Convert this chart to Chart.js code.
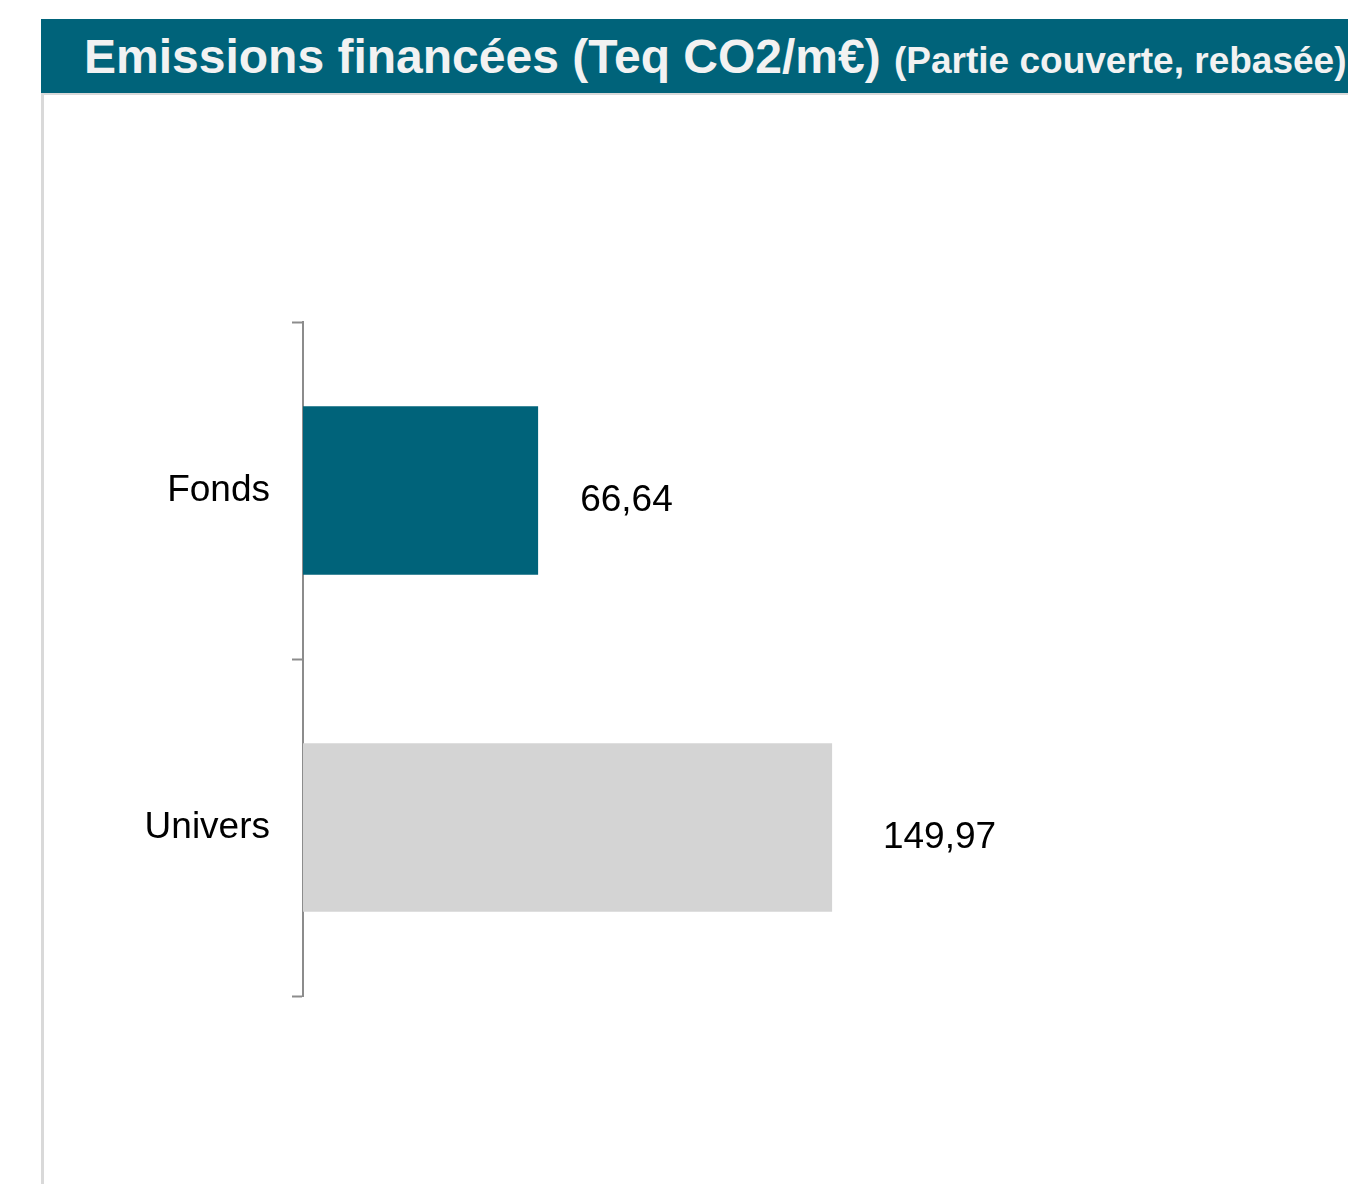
<!DOCTYPE html>
<html lang="fr">
<head>
<meta charset="utf-8">
<title>Emissions financées</title>
<script src="https://cdn.jsdelivr.net/npm/chart.js@4/dist/chart.umd.min.js"></script>
<style>
    html, body { margin: 0; padding: 0; background: #fff; }
    body { width: 1348px; height: 1184px; position: relative; overflow: hidden; font-family: "Liberation Sans", Arial, sans-serif; }
    #frame { position: absolute; left: 41px; top: 93px; width: 1320px; height: 1100px; border-left: 3px solid #d9d9d9; border-top: 2px solid #d9d9d9; }
    #header { position: absolute; left: 41px; top: 19px; width: 1320px; height: 74px; background: #00637a; color: #f2f2f2; font-weight: bold; white-space: nowrap; }
    #header .main { position: absolute; left: 43px; top: 10px; font-size: 48px; line-height: 56px; }
    #header .sub { font-size: 37px; }
    #chart-wrap { position: absolute; left: 0; top: 0; width: 1348px; height: 1184px; }
</style>
</head>
<body>
<div id="frame"></div>
<div id="header"><div class="main">Emissions financées (Teq CO2/m€) <span class="sub">(Partie couverte, rebasée)</span></div></div>
<div id="chart-wrap"><canvas id="emissions-chart" width="1348" height="1184"></canvas></div>
<script>
// --- DONNÉES ---
const categories = ['Fonds', 'Univers'];
const emissions = [66.64, 149.97];
const barColors = ['#00637a', '#d4d4d4'];

const axisLeft = 303; // bord gauche de la zone de tracé
const labelFont = '"Liberation Sans", Arial, sans-serif';

// Étiquettes de valeur à droite des barres (format français)
const valueLabels = {
    id: 'valueLabels',
    afterDatasetsDraw(chart) {
        const { ctx } = chart;
        const meta = chart.getDatasetMeta(0);
        ctx.save();
        ctx.font = '37px ' + labelFont;
        ctx.fillStyle = '#000';
        ctx.textAlign = 'left';
        ctx.textBaseline = 'middle';
        meta.data.forEach((bar, i) => {
            const txt = emissions[i].toFixed(2).replace('.', ',');
            ctx.fillText(txt, bar.x + 35 + (bar.x - bar.base) * 0.03, bar.y + 10);
        });
        ctx.restore();
    }
};

new Chart(document.getElementById('emissions-chart'), {
    type: 'bar',
    data: {
        labels: categories,
        datasets: [{
            data: emissions,
            backgroundColor: barColors,
            borderWidth: 0,
            categoryPercentage: 1,
            barPercentage: 0.5
        }]
    },
    options: {
        indexAxis: 'y',
        responsive: false,
        animation: false,
        layout: { padding: { left: 0, top: 322, bottom: 188, right: 163 } },
        plugins: {
            legend: { display: false },
            tooltip: { enabled: false }
        },
        scales: {
            x: { display: false, min: 0, max: 250 },
            y: {
                afterFit: (scale) => { scale.width = axisLeft; },
                border: { display: true, color: '#8c8c8c', width: 2 },
                grid: {
                    offset: true,
                    drawOnChartArea: false,
                    drawTicks: true,
                    tickLength: 11,
                    tickWidth: 2,
                    tickColor: '#8c8c8c'
                },
                ticks: {
                    padding: 22,
                    color: '#000',
                    font: { family: labelFont, size: 37 }
                }
            }
        }
    },
    plugins: [valueLabels]
});
</script>
</body>
</html>
